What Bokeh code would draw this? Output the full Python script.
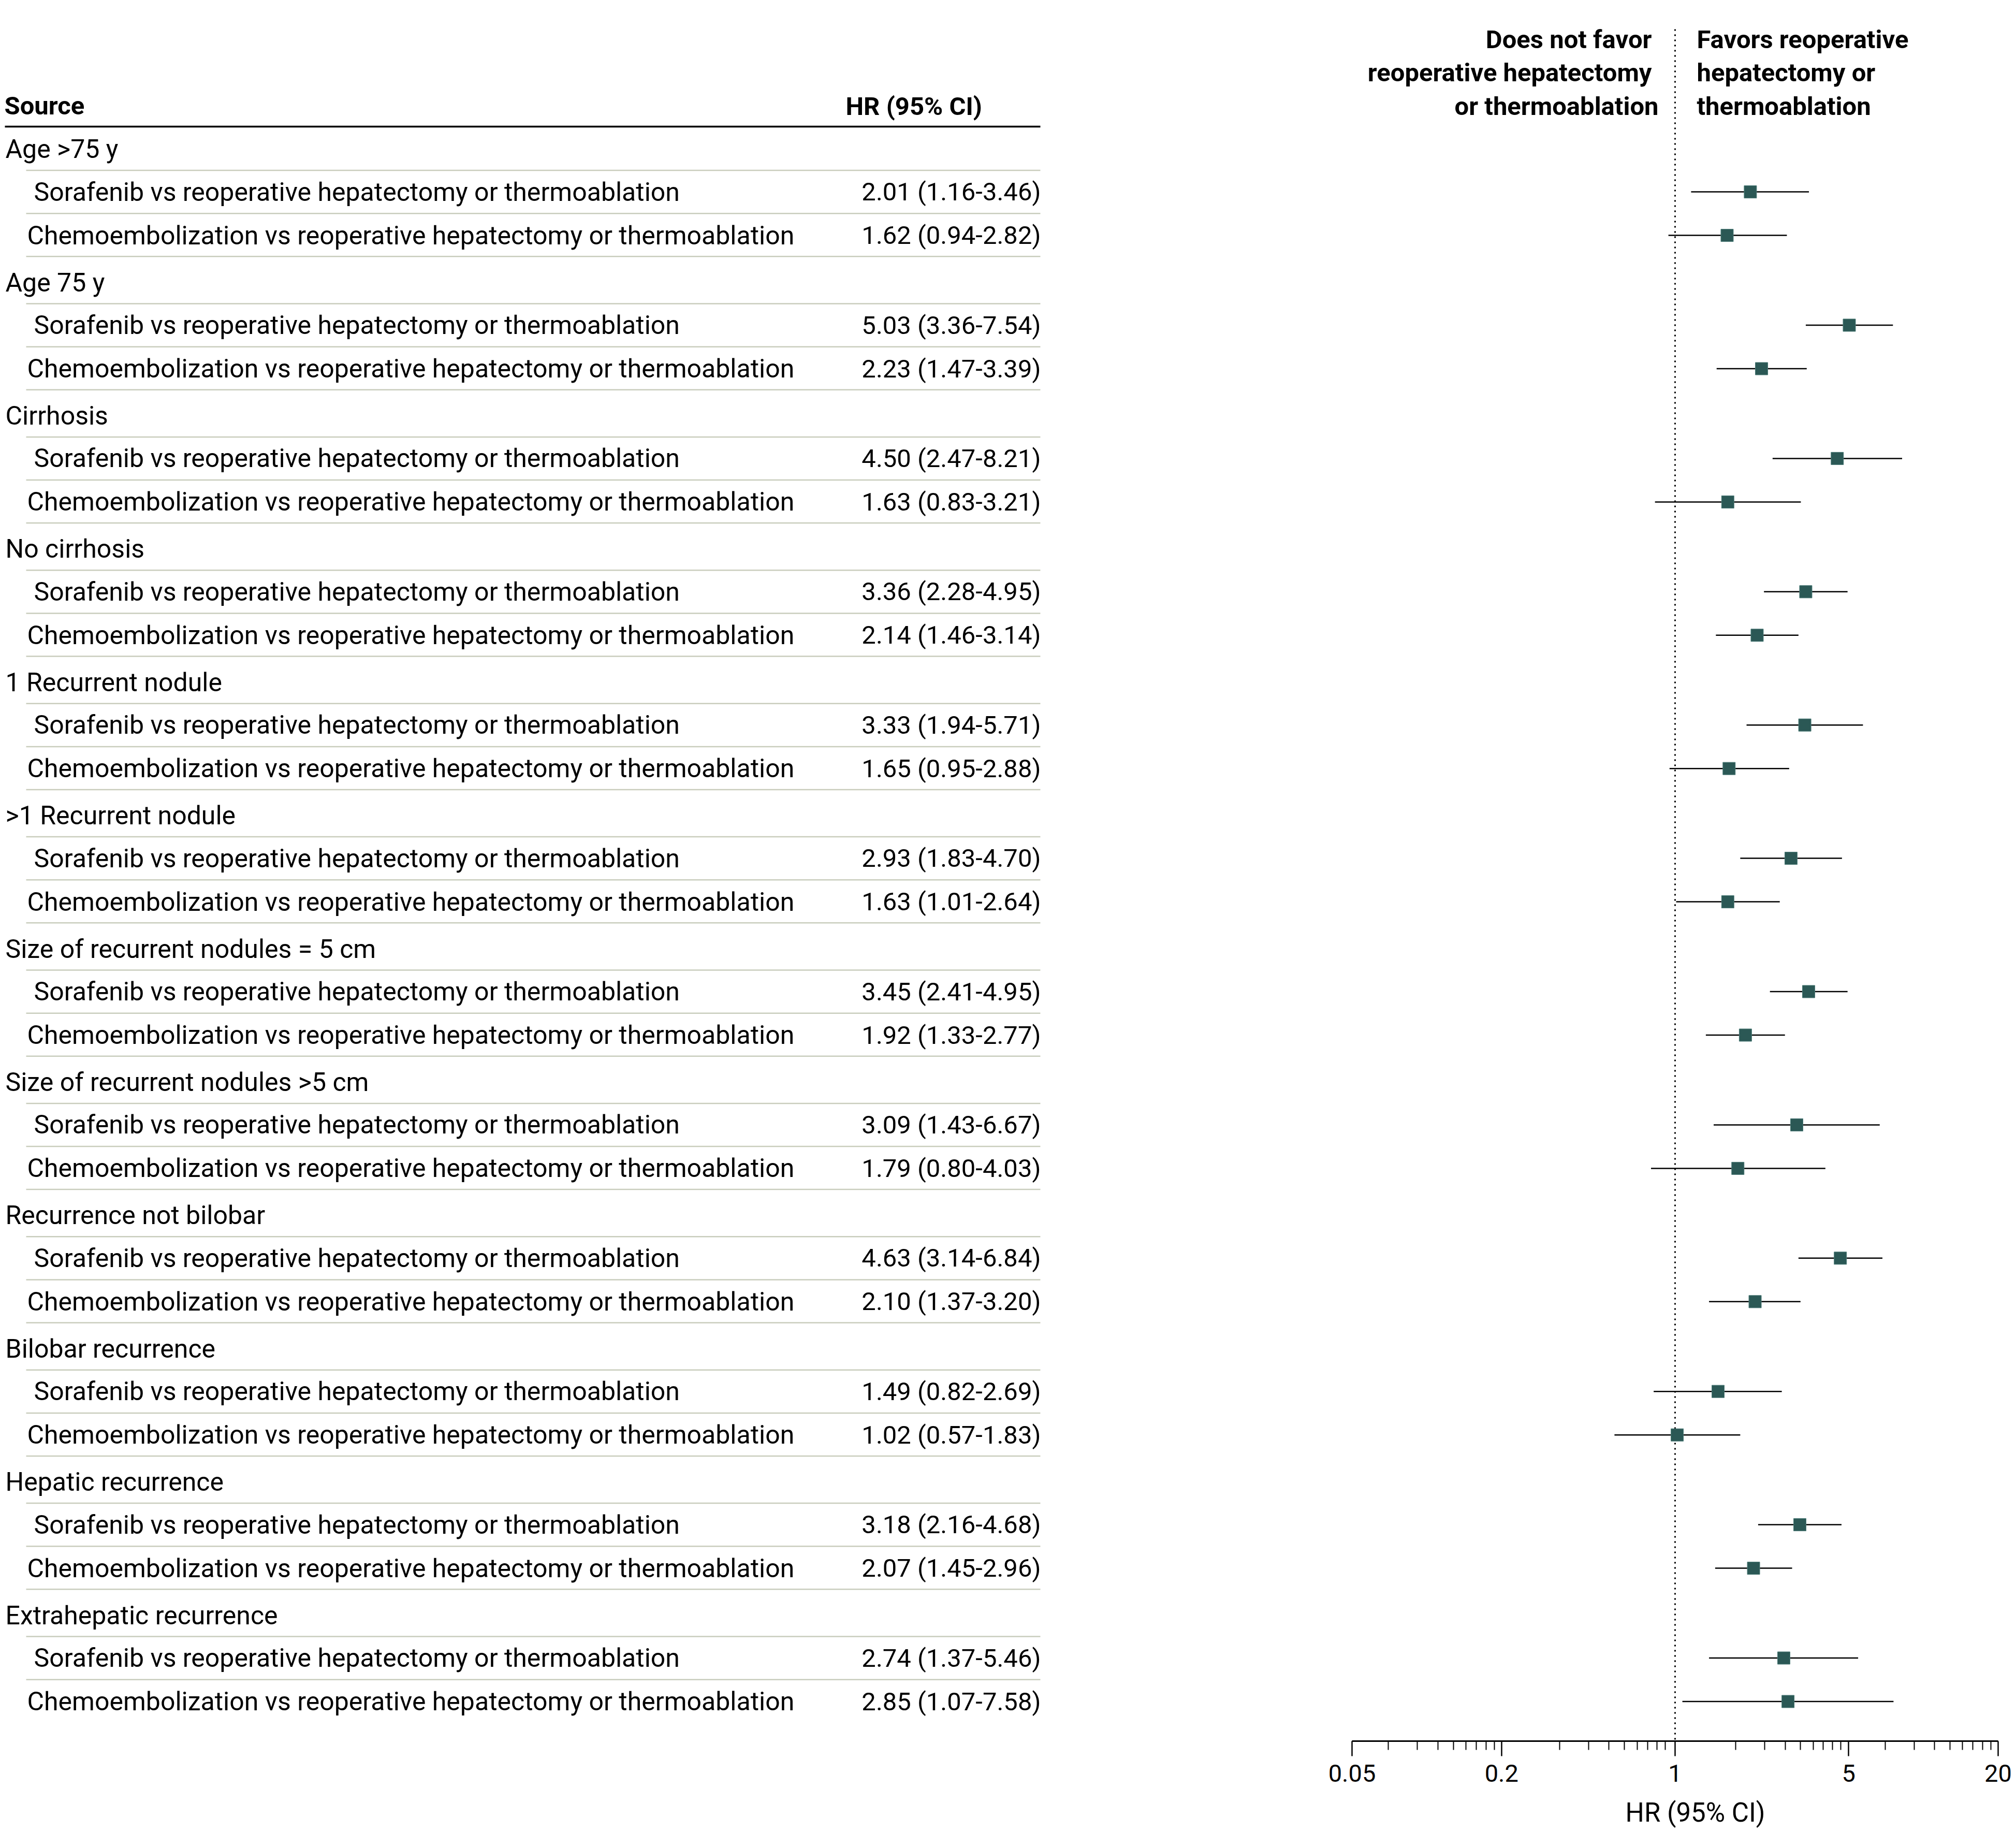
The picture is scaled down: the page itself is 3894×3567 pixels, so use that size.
from bokeh.plotting import figure
from bokeh.layouts import row
from bokeh.models import FixedTicker, CustomJSTickFormatter, Range1d, Title
from bokeh.core.properties import value
from bokeh.embed import file_html
from bokeh.resources import INLINE

# ---------------- data ----------------
groups = [
    "Age >75 y",
    "Age 75 y",
    "Cirrhosis",
    "No cirrhosis",
    "1 Recurrent nodule",
    ">1 Recurrent nodule",
    "Size of recurrent nodules = 5 cm",
    "Size of recurrent nodules >5 cm",
    "Recurrence not bilobar",
    "Bilobar recurrence",
    "Hepatic recurrence",
    "Extrahepatic recurrence",
]
comparisons = [
    "Sorafenib vs reoperative hepatectomy or thermoablation",
    "Chemoembolization vs reoperative hepatectomy or thermoablation",
]
sorafenib_hr = [2.01, 5.03, 4.50, 3.36, 3.33, 2.93, 3.45, 3.09, 4.63, 1.49, 3.18, 2.74]
sorafenib_lo = [1.16, 3.36, 2.47, 2.28, 1.94, 1.83, 2.41, 1.43, 3.14, 0.82, 2.16, 1.37]
sorafenib_hi = [3.46, 7.54, 8.21, 4.95, 5.71, 4.70, 4.95, 6.67, 6.84, 2.69, 4.68, 5.46]
chemo_hr = [1.62, 2.23, 1.63, 2.14, 1.65, 1.63, 1.92, 1.79, 2.10, 1.02, 2.07, 2.85]
chemo_lo = [0.94, 1.47, 0.83, 1.46, 0.95, 1.01, 1.33, 0.80, 1.37, 0.57, 1.45, 1.07]
chemo_hi = [2.82, 3.39, 3.21, 3.14, 2.88, 2.64, 2.77, 4.03, 3.20, 1.83, 2.96, 7.58]

major_ticks = [0.05, 0.2, 1, 5, 20]
minor_ticks = [0.07, 0.0915, 0.111, 0.128, 0.1435, 0.158, 0.173, 0.187,
               0.343, 0.449, 0.54, 0.625, 0.704, 0.775, 0.845, 0.914,
               1.75, 2.3, 2.78, 3.2, 3.6, 3.95, 4.3, 4.65,
               7.03, 9.17, 11.08, 12.79, 14.35, 15.83, 17.32, 18.7]

left_header = ["Does not favor", "reoperative hepatectomy", "or thermoablation"]
right_header = ["Favors reoperative", "hepatectomy or", "thermoablation"]

# ---------------- layout (page pixel coordinates) ----------------
W, H = 3890, 3560
LEFT_W = 2560
AX_L, AX_R, AX_Y = 2611, 3859, 3362
FONT = value("Roboto")
REG = value("50px")
VALS = value("49px")
BOLD = value("49px")

g_line = [328.6 + 257.4 * g for g in range(len(groups))]
hdr_mid = [y - 41.0 for y in g_line]
sor_mid = [y + 41.5 for y in g_line]
che_mid = [y + 125.5 for y in g_line]

# ---------------- left table ----------------
left = figure(width=LEFT_W, height=H, x_range=Range1d(0, LEFT_W),
              y_range=Range1d(AX_Y, 0), x_axis_type=None, y_axis_type=None,
              toolbar_location=None, output_backend="svg",
              min_border_left=0, min_border_right=0, min_border_top=0,
              min_border_bottom=H - AX_Y,
              outline_line_color=None, background_fill_color="white", border_fill_color="white")
left.grid.visible = False

# header
left.text(x=[8], y=[203.5], text=["Source"], text_font=FONT, text_font_size=BOLD,
          text_font_style="bold", text_baseline="middle", text_align="left", text_color="black")
left.text(x=[1633], y=[204.5], text=["HR (95% CI)"], text_font=FONT, text_font_size=BOLD,
          text_font_style="bold", text_baseline="middle", text_align="left", text_color="black")
left.segment(x0=[9], y0=[244], x1=[2009], y1=[244], line_color="black", line_width=3.5)

# separator lines
sep_y = []
for i, y in enumerate(g_line):
    sep_y += [y, y + 83.2]
    if i < len(g_line) - 1:
        sep_y.append(y + 166.2)
left.segment(x0=[50] * len(sep_y), y0=sep_y, x1=[2009] * len(sep_y), y1=sep_y,
             line_color="#c9cdbd", line_width=2.5)

# labels
left.text(x=[10] * len(groups), y=hdr_mid, text=groups, text_font=FONT, text_font_size=REG,
          text_baseline="middle", text_align="left", text_color="black")
left.text(x=[65] * len(groups), y=sor_mid, text=[comparisons[0]] * len(groups), text_font=FONT,
          text_font_size=REG, text_baseline="middle", text_align="left", text_color="black")
left.text(x=[52] * len(groups), y=che_mid, text=[comparisons[1]] * len(groups), text_font=FONT,
          text_font_size=REG, text_baseline="middle", text_align="left", text_color="black")

sor_txt = [f"{h:.2f} ({l:.2f}-{u:.2f})" for h, l, u in zip(sorafenib_hr, sorafenib_lo, sorafenib_hi)]
che_txt = [f"{h:.2f} ({l:.2f}-{u:.2f})" for h, l, u in zip(chemo_hr, chemo_lo, chemo_hi)]
left.text(x=[2010] * len(groups), y=sor_mid, text=sor_txt, text_font=FONT, text_font_size=VALS,
          text_baseline="middle", text_align="right", text_color="black")
left.text(x=[2010] * len(groups), y=che_mid, text=che_txt, text_font=FONT, text_font_size=VALS,
          text_baseline="middle", text_align="right", text_color="black")

# ---------------- forest plot ----------------
RIGHT_W = W - LEFT_W
right = figure(width=RIGHT_W, height=H, x_axis_type="log", x_range=Range1d(0.05, 20),
               y_range=Range1d(AX_Y, 0), y_axis_type=None,
               toolbar_location=None, output_backend="svg",
               min_border_left=AX_L - LEFT_W, min_border_right=W - AX_R,
               min_border_top=0, min_border_bottom=H - AX_Y,
               outline_line_color=None, background_fill_color="white", border_fill_color="white")
right.grid.visible = False

ax = right.xaxis[0]
ax.ticker = FixedTicker(ticks=major_ticks, minor_ticks=minor_ticks)
ax.formatter = CustomJSTickFormatter(code="return tick.toString();")
ax.axis_line_width = 3
ax.axis_line_color = "black"
ax.major_tick_line_width = 2.5
ax.major_tick_line_color = "black"
ax.major_tick_in = 0
ax.major_tick_out = 29
ax.minor_tick_line_width = 2
ax.minor_tick_line_color = "black"
ax.minor_tick_in = 0
ax.minor_tick_out = 17
ax.major_label_text_font = "Roboto"
ax.major_label_text_font_size = "47px"
ax.major_label_text_color = "black"
ax.major_label_standoff = 16

# reference line at HR = 1
right.segment(x0=[1], y0=[56], x1=[1], y1=[AX_Y], line_color="black", line_width=3,
              line_dash="3 7")

# CIs and points
right.segment(x0=sorafenib_lo, y0=sor_mid, x1=sorafenib_hi, y1=sor_mid, line_color="black", line_width=2.5)
right.segment(x0=chemo_lo, y0=che_mid, x1=chemo_hi, y1=che_mid, line_color="black", line_width=2.5)
right.scatter(x=sorafenib_hr, y=sor_mid, marker="square", size=24, fill_color="#2b5855",
              line_color="#4e7d79", line_width=1)
right.scatter(x=chemo_hr, y=che_mid, marker="square", size=24, fill_color="#2b5855",
              line_color="#4e7d79", line_width=1)

# direction labels
head_y = [75.5, 139.5, 204.5]
right.text(x=[1, 1, 1], y=head_y, text=left_header, x_offset=[-45, -45, -32], text_font=FONT,
           text_font_size=BOLD, text_font_style="bold", text_baseline="middle",
           text_align="right", text_color="black")
right.text(x=[1, 1, 1], y=head_y, text=right_header, x_offset=[42, 42, 42], text_font=FONT,
           text_font_size=BOLD, text_font_style="bold", text_baseline="middle",
           text_align="left", text_color="black")

right.add_layout(Title(text="HR (95% CI)", align="left", offset=528, standoff=20,
                       padding=(0, 0, 15, 0),
                       text_font="Roboto", text_font_size="51px", text_font_style="normal",
                       text_color="black"), "below")

layout = row(left, right, spacing=0)
open("out.html", "w").write(file_html(layout, INLINE))
